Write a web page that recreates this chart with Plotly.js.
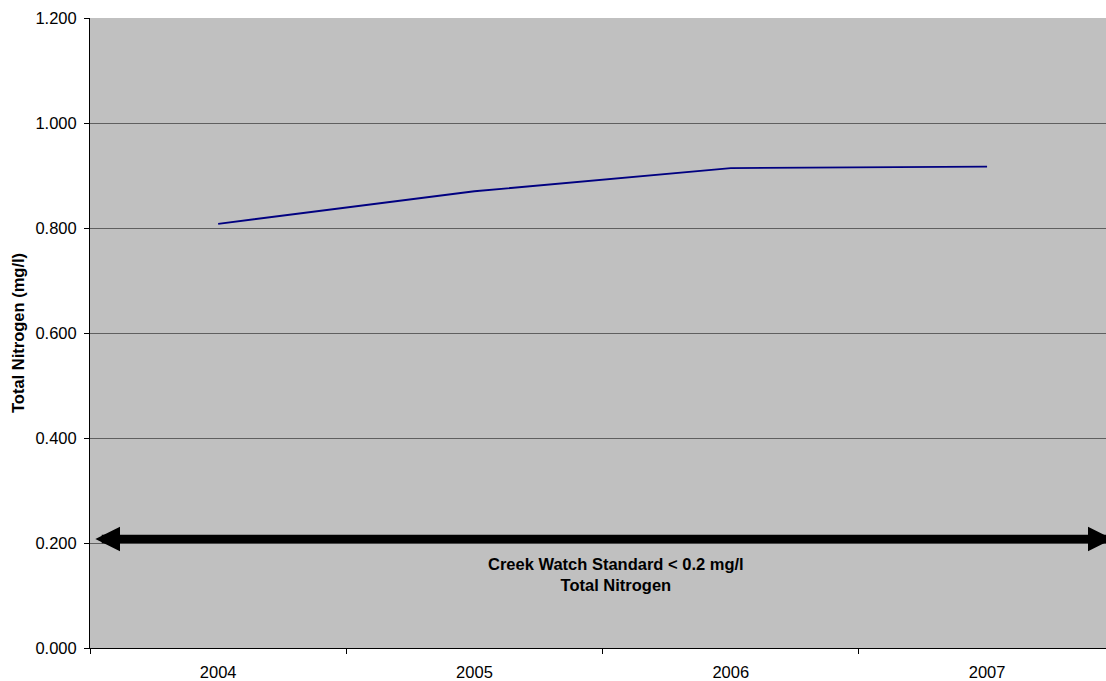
<!DOCTYPE html>
<html>
<head>
<meta charset="utf-8">
<script src="https://cdn.plot.ly/plotly-3.0.1.min.js"></script>
<style>html,body{margin:0;padding:0;background:#fff;}#chart{width:1106px;height:681px;}</style>
</head>
<body>
<div id="chart"></div>
<script>
const years = ['2004', '2005', '2006', '2007'];
const totalNitrogen = [0.808, 0.870, 0.914, 0.917];
const standardValue = 0.2;
const yTicks = [0, 0.2, 0.4, 0.6, 0.8, 1.0, 1.2];
const standardText = '<b>Creek Watch Standard < 0.2 mg/l<br>Total Nitrogen</b>';

const font = {family: '"Liberation Sans", Arial, sans-serif', size: 16.5, color: '#000'};

const trace = {
  x: years, y: totalNitrogen, type: 'scatter', mode: 'lines',
  line: {color: '#000080', width: 1.8}, hoverinfo: 'skip'
};

const layout = {
  width: 1106, height: 681,
  margin: {l: 90, r: 0, t: 18, b: 33},
  paper_bgcolor: '#ffffff', plot_bgcolor: '#c0c0c0',
  font: font, showlegend: false,
  xaxis: {
    type: 'category', range: [-0.5, 3.464],
    tickson: 'boundaries', ticks: 'outside', ticklen: 5, tickcolor: '#000',
    showgrid: false, showline: true, linecolor: '#000', linewidth: 1,
    ticklabelstandoff: 9, tickfont: font, zeroline: false
  },
  yaxis: {
    range: [0, 1.2], tickvals: yTicks, tickformat: '.3f',
    ticks: 'outside', ticklen: 5, tickcolor: '#000',
    showgrid: true, gridcolor: '#5f5f5f', gridwidth: 1,
    showline: true, linecolor: '#000', linewidth: 1, zeroline: false,
    ticklabelstandoff: 4, tickfont: font,
    title: {text: '<b>Total Nitrogen (mg/l)</b>', font: font, standoff: 6}
  },
  annotations: [
    {
      x: 3.49, y: standardValue * 1.038, xref: 'x', yref: 'y',
      ax: -0.485, ay: standardValue * 1.038, axref: 'x', ayref: 'y',
      text: ' ', font: {size: 1}, showarrow: true,
      arrowside: 'end+start', arrowhead: 2, startarrowhead: 2,
      arrowsize: 0.58, startarrowsize: 0.58, arrowwidth: 8.5, arrowcolor: '#000',
      standoff: 0, startstandoff: 0
    },
    {
      x: 1.552, y: standardValue * 0.7, xref: 'x', yref: 'y',
      text: standardText, showarrow: false, font: font, align: 'center',
      yanchor: 'middle'
    }
  ]
};

Plotly.newPlot('chart', [trace], layout, {staticPlot: true, displayModeBar: false});
</script>
</body>
</html>
